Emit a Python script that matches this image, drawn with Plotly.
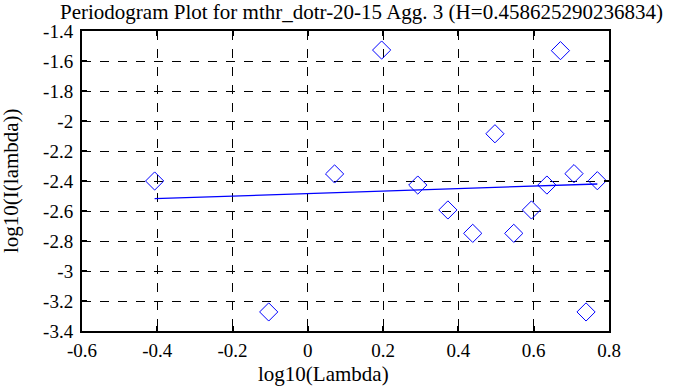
import plotly.graph_objects as go

log_lambda = [-0.407, -0.104, 0.071, 0.196, 0.292, 0.372, 0.438, 0.497,
              0.547, 0.594, 0.635, 0.671, 0.707, 0.739, 0.769]
log_I = [-2.400, -3.273, -2.353, -1.527, -2.427, -2.593, -2.749, -2.085,
         -2.749, -2.593, -2.427, -1.531, -2.351, -3.273, -2.398]
fit_x = [-0.407, 0.769]
fit_y = [-2.518, -2.420]

x_ticks = [-0.6, -0.4, -0.2, 0, 0.2, 0.4, 0.6, 0.8]
x_labels = ["-0.6", "-0.4", "-0.2", "0", "0.2", "0.4", "0.6", "0.8"]
y_ticks = [-3.4, -3.2, -3.0, -2.8, -2.6, -2.4, -2.2, -2.0, -1.8, -1.6, -1.4]
y_labels = ["-3.4", "-3.2", "-3", "-2.8", "-2.6", "-2.4", "-2.2", "-2", "-1.8", "-1.6", "-1.4"]

title = "Periodogram Plot for mthr_dotr-20-15 Agg. 3 (H=0.458625290236834)"
FONT = "Liberation Serif"

fig = go.Figure()
fig.add_trace(go.Scatter(x=log_lambda, y=log_I, mode="markers",
                         marker=dict(symbol="diamond-open", size=14,
                                     color="#0000ff", line=dict(width=1, color="#0000ff")),
                         showlegend=False))
fig.add_trace(go.Scatter(x=fit_x, y=fit_y, mode="lines",
                         line=dict(color="#0000ff", width=1.3), showlegend=False))

W, H = 678, 387
L, R, T, B = 82, 69, 31, 56
axis_common = dict(showline=True, linecolor="black", linewidth=2, mirror="ticks",
                   ticks="inside", ticklen=5, tickwidth=2, tickcolor="black",
                   showgrid=True, gridcolor="black", griddash="dash", gridwidth=1,
                   zeroline=False, tickfont=dict(family=FONT, size=19, color="black"))

fig.update_layout(
    width=W, height=H,
    margin=dict(l=L, r=R, t=T, b=B),
    paper_bgcolor="white", plot_bgcolor="white",
    font=dict(family=FONT, size=19, color="black"),
    xaxis=dict(range=[-0.6, 0.8], tickvals=x_ticks, ticktext=x_labels,
               ticklabelstandoff=1, **axis_common),
    yaxis=dict(range=[-3.4, -1.4], tickvals=y_ticks, ticktext=y_labels,
               ticklabelstandoff=3, **axis_common),
    annotations=[
        dict(text=title, xref="paper", yref="paper",
             x=(361 - L) / (W - L - R), y=1 + (T - 12) / (H - T - B),
             xanchor="center", yanchor="middle", showarrow=False,
             font=dict(family=FONT, size=21, color="black")),
        dict(text="log10(Lambda)", xref="paper", yref="paper",
             x=(323 - L) / (W - L - R), y=-(374 - (H - B)) / (H - T - B),
             xanchor="center", yanchor="middle", showarrow=False,
             font=dict(family=FONT, size=21, color="black")),
        dict(text="log10(I(lambda))", xref="paper", yref="paper",
             x=-(L - 11) / (W - L - R), y=0.5, textangle=-90,
             xanchor="center", yanchor="middle", showarrow=False,
             font=dict(family=FONT, size=21, color="black")),
    ],
)
fig.write_html("out.html", config={"displayModeBar": False},
               post_script="document.body.style.margin='0px';")
